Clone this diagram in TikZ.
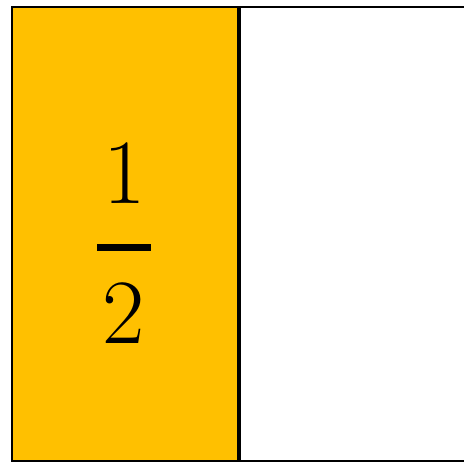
\documentclass[tikz,border=0pt]{standalone}
\usetikzlibrary{positioning}
\definecolor{halfgold}{HTML}{FFC000}
\tikzset{
  part/.style ={draw=black, line width=2pt},
  digit/.style={inner sep=0pt, font=\fontsize{92}{92}\selectfont},
  fbar/.style ={line width=7pt},
}

\begin{document}
\begin{tikzpicture}[x=1pt, y=-1pt]
  \useasboundingbox (0,0) rectangle (464,462);

  % the two halves of the whole
  \node[part, fill=halfgold, minimum width=226pt, minimum height=454pt,
        anchor=north west, inner sep=0pt] (left) at (11,6) {};
  \node[part, fill=white, minimum width=225pt, minimum height=454pt,
        anchor=north west, inner sep=0pt] (right) at (left.north east) {};

  % the fraction one half
  \node[digit] (one) at (125,173) {1};
  \node[digit] (two) at (124,313) {2};
  \coordinate (barl) at (97,248);
  \coordinate (barr) at (151,248);
  \draw[fbar] (barl) -- (barr);
\end{tikzpicture}
\end{document}
